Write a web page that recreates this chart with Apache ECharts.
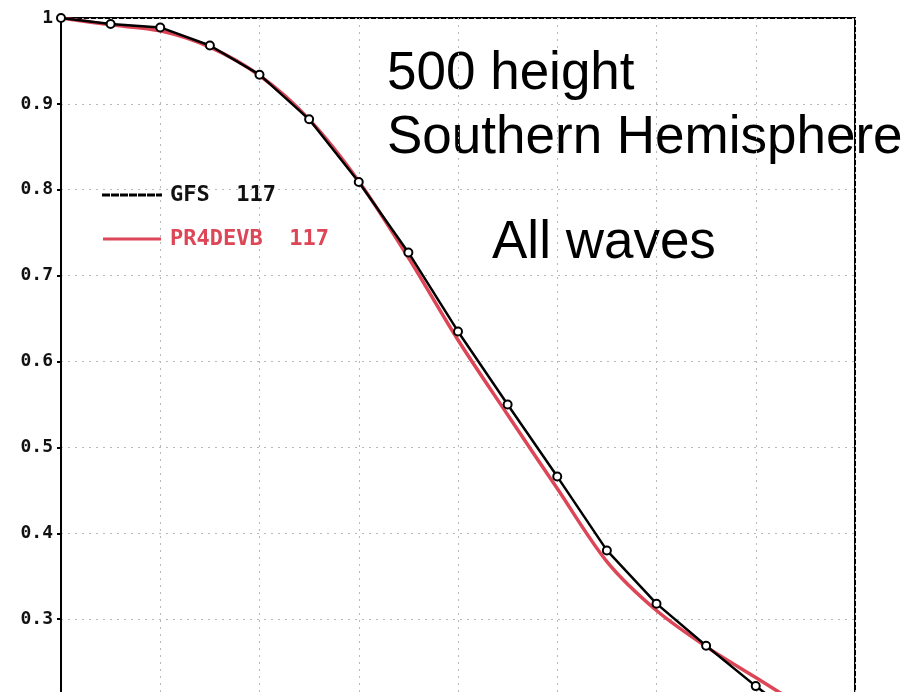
<!DOCTYPE html>
<html>
<head>
<meta charset="utf-8">
<script src="https://cdn.jsdelivr.net/npm/echarts@6/dist/echarts.min.js"></script>
<style>
  html, body { margin: 0; padding: 0; background: #fff; overflow: hidden; }
  #chart { width: 910px; height: 720px; }
</style>
</head>
<body>
<div id="chart"></div>
<script>
// Anomaly correlation die-off, 500 hPa height, Southern Hemisphere, all waves
const forecastDays = [0, 1, 2, 3, 4, 5, 6, 7, 8, 9, 10, 11, 12, 13, 14, 15];
const gfsScores = [1.0, 0.993, 0.989, 0.968, 0.934, 0.882, 0.809, 0.727, 0.635, 0.550, 0.466, 0.380, 0.318, 0.269, 0.222, 0.178];
const pr4devbScores = [1.0, 0.992, 0.985, 0.966, 0.933, 0.882, 0.810, 0.721, 0.625, 0.538, 0.452, 0.367, 0.310, 0.268, 0.232, 0.196];
const seriesNames = ['GFS', 'PR4DEVB'];
const caseCounts = [117, 117];
const yTicks = [0.2, 0.3, 0.4, 0.5, 0.6, 0.7, 0.8, 0.9, 1];
const titleLines = ['500 height', 'Southern Hemisphere', 'All waves'];

const RED = '#dc4656';
const monoFont = '"DejaVu Sans Mono", "Liberation Mono", monospace';
const sansFont = '"Liberation Sans", Arial, sans-serif';

const pairs = (xs, ys) => xs.map((x, i) => [x, ys[i]]);

const chart = echarts.init(document.getElementById('chart'), null, { renderer: 'canvas' });

const dotted = { color: '#b8b8b8', width: 1, type: [2, 5] };

chart.setOption({
  backgroundColor: '#fff',
  animation: false,
  grid: {
    left: 61, top: 18, right: 55, bottom: 15,
    show: true, borderColor: '#000', borderWidth: 2, backgroundColor: 'transparent'
  },
  xAxis: {
    type: 'value', min: 0, max: 16, interval: 2,
    axisLine: { show: true, lineStyle: { color: '#000', width: 2 } },
    axisTick: { show: false },
    axisLabel: { show: false },
    splitLine: { show: true, lineStyle: dotted }
  },
  yAxis: {
    type: 'value', min: yTicks[0], max: yTicks[yTicks.length - 1], interval: 0.1,
    axisLine: { show: true, lineStyle: { color: '#000', width: 2 } },
    axisTick: { show: true, length: 4, lineStyle: { color: '#000', width: 2 } },
    axisLabel: {
      color: '#111', fontFamily: monoFont, fontWeight: 'bold', fontSize: 18, margin: 8,
      formatter: v => {
        const t = yTicks.find(k => Math.abs(k - v) < 1e-6);
        return t === undefined ? '' : String(t === 1 ? 1 : t.toFixed(1));
      }
    },
    splitLine: { show: true, lineStyle: dotted }
  },
  legend: {
    orient: 'vertical', left: 97, top: 179, itemGap: 22,
    itemWidth: 58, itemHeight: 3,
    textStyle: { fontFamily: monoFont, fontWeight: 'bold', fontSize: 22, padding: [0, 0, 0, 4] },
    formatter: name => name + '  ' + caseCounts[seriesNames.indexOf(name)],
    data: [
      {
        name: seriesNames[0],
        icon: 'path://M0,0h6v1h-6z M9,0h6v1h-6z M18,0h6v1h-6z M27,0h6v1h-6z M36,0h6v1h-6z M45,0h6v1h-6z M54,0h4v1h-4z',
        itemStyle: { color: '#000' },
        textStyle: { color: '#111' }
      },
      {
        name: seriesNames[1],
        icon: 'rect',
        itemStyle: { color: RED },
        textStyle: { color: RED }
      }
    ]
  },
  graphic: [
    { type: 'text', left: 387, top: 48, silent: true,
      style: { text: titleLines[0], font: '53px ' + sansFont, fill: '#000' } },
    { type: 'text', left: 387, top: 112, silent: true,
      style: { text: titleLines[1], font: '53px ' + sansFont, fill: '#000' } },
    { type: 'text', left: 492, top: 217, silent: true,
      style: { text: titleLines[2], font: '53px ' + sansFont, fill: '#000' } }
  ],
  series: [
    {
      name: seriesNames[1], type: 'line', z: 2,
      data: pairs(forecastDays, pr4devbScores),
      smooth: 0.3, showSymbol: false, symbol: 'none',
      lineStyle: { color: RED, width: 3.5 },
      itemStyle: { color: RED }
    },
    {
      name: seriesNames[0], type: 'line', z: 3,
      data: pairs(forecastDays, gfsScores),
      symbol: 'circle', symbolSize: 8, showSymbol: true,
      lineStyle: { color: '#000', width: 2.5 },
      itemStyle: { color: '#fff', borderColor: '#000', borderWidth: 2 }
    }
  ]
});
</script>
</body>
</html>
